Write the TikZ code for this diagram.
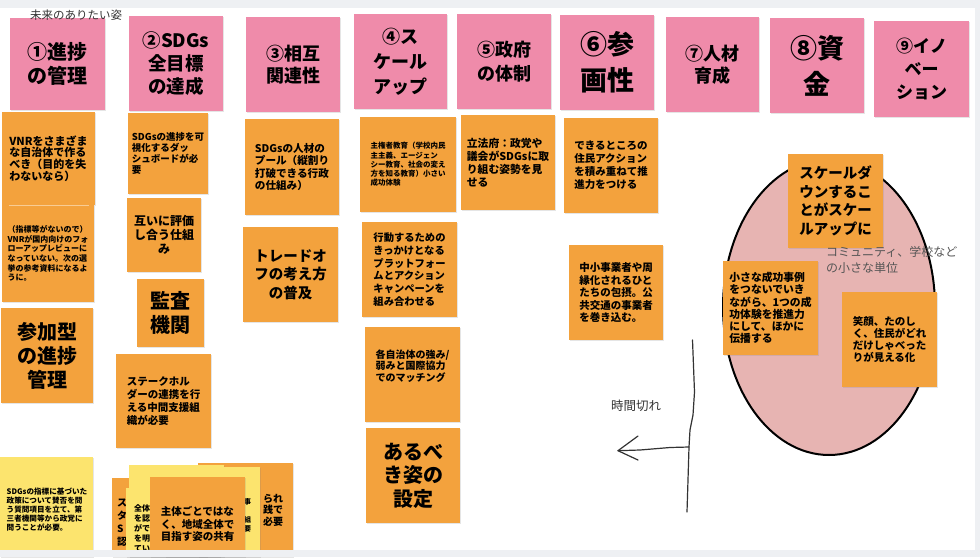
\documentclass[tikz,border=0pt]{standalone}
\usepackage{fontspec}
\usetikzlibrary{shadows}
\newfontfamily\cjk{Noto Sans CJK JP}
\definecolor{pinkc}{HTML}{EF8BAA}
\definecolor{orangec}{HTML}{F3A23D}
\definecolor{yellowc}{HTML}{FCE46E}
\definecolor{ellc}{HTML}{E7B4B2}
\definecolor{bandc}{HTML}{EEF0F3}
\definecolor{inkc}{HTML}{333333}
\definecolor{grayc}{HTML}{555555}
\begin{document}
\begin{tikzpicture}[x=1pt,y=-1pt,
  sticky/.style={inner sep=0pt, outer sep=0pt, align=center,
    drop shadow={shadow xshift=0.6pt, shadow yshift=-1.2pt, opacity=0.2}},
  pk/.style={sticky, fill=pinkc},
  og/.style={sticky, fill=orangec},
  yl/.style={sticky, fill=yellowc},
  fs/.style 2 args={font={\cjk\bfseries\fontsize{#1}{#2}\selectfont}},
  txt/.style={inner sep=0pt, outer sep=0pt, align=left},
  hand/.style={draw=inkc, line width=1.2pt, line cap=round, line join=round}]
\useasboundingbox (0,0) rectangle (980,557);
\fill[white] (0,0) rectangle (980,557);
\fill[bandc] (0,0) rectangle (980,8);

% ellipse
\draw[fill=ellc, line width=2pt] (829,307) ellipse [x radius=106, y radius=148];

% pink headers
\node[pk, minimum width=95pt, minimum height=92pt, fs={20}{24}] (p1) at (57.5,64) {①進捗\\の管理};
\node[pk, minimum width=94pt, minimum height=95pt, fs={18.5}{23}] (p2) at (176,63.5) {②SDGs\\全目標\\の達成};
\node[pk, minimum width=94pt, minimum height=95pt, fs={18}{22}] (p3) at (293,64.5) {③相互\\関連性};
\node[pk, minimum width=93pt, minimum height=95pt, fs={18}{25}] (p4) at (400.5,61.5) {④ス\\ケール\\アップ};
\node[pk, minimum width=94pt, minimum height=95pt, fs={18}{24}] (p5) at (504,61.5) {⑤政府\\の体制};
\node[pk, minimum width=94pt, minimum height=95pt, fs={27}{36}] (p6) at (607,62.5) {⑥参\\画性};
\node[pk, minimum width=93pt, minimum height=95pt, fs={18}{22}] (p7) at (712.5,64.5) {⑦人材\\育成};
\node[pk, minimum width=94pt, minimum height=95pt, fs={27}{36}] (p8) at (817,65.5) {⑧資\\金};
\node[pk, minimum width=95pt, minimum height=96pt, fs={17}{23}] (p9) at (921.5,69) {⑨イノ\\ベー\\ション};

\node[anchor=west, inner sep=0pt, font={\cjk\fontsize{11.5}{13}\selectfont}, text=inkc] (title) at (30,15) {未来のありたい姿};

% column 1
\node[og, minimum width=93pt, minimum height=93pt, align=left, fs={11}{11.7}] (o1) at (48.5,158.5) {VNRをさまざま\\な自治体で作る\\べき（目的を失\\わないなら）};
\node[og, minimum width=92pt, minimum height=97pt, align=left, fs={8}{9.6}] (o2) at (48,253.5) {（指標等がないので）\\VNRが国内向けのフォ\\ローアップレビューに\\なっていない。次の選\\挙の参考資料になるよ\\うに。};
\draw[draw=orangec!55!white, line width=1pt] ([xshift=7pt]o2.north west) -- ([xshift=-5pt]o2.north east);
\node[og, minimum width=92pt, minimum height=95pt, fs={20}{24}] (o3) at (47,355.5) {参加型\\の進捗\\管理};

% column 2
\node[og, minimum width=80pt, minimum height=81pt, align=left, fs={9.5}{10.8}] (o4) at (168,153.5) {SDGsの進捗を可\\視化するダッ\\シュボードが必\\要};
\node[og, minimum width=74pt, minimum height=74pt, fs={12}{14}] (o5) at (164,235) {互いに評価\\し合う仕組\\み};
\node[og, minimum width=67pt, minimum height=68pt, fs={20}{24}] (o6) at (170.5,313) {監査\\機関};
\node[og, minimum width=95pt, minimum height=94pt, align=left, fs={10.5}{12.8}] (o7) at (163.5,401) {ステークホル\\ダーの連携を行\\える中間支援組\\織が必要};

% column 3
\node[og, minimum width=94pt, minimum height=96pt, align=left, fs={10.6}{12.6}] (o8) at (292,167) {SDGsの人材の\\プール（縦割り\\打破できる行政\\の仕組み）};
\node[og, minimum width=95pt, minimum height=95pt, fs={14.5}{18.5}] (o9) at (290.5,274.5) {トレードオ\\フの考え方\\の普及};

% column 4
\node[og, minimum width=96pt, minimum height=95pt, align=left, fs={7.5}{9.2}] (o10) at (408,164.5) {主権者教育（学校内民\\主主義、エージェン\\シー教育、社会の変え\\方を知る教育）小さい\\成功体験};
\node[og, minimum width=95pt, minimum height=95pt, align=left, fs={10.3}{12.8}] (o11) at (409.5,269.5) {行動するための\\きっかけとなる\\プラットフォー\\ムとアクション\\キャンペーンを\\組み合わせる};
\node[og, minimum width=95pt, minimum height=95pt] (o12) at (412.5,374.5) {};
\node[txt, fs={10}{11.7}] (t12) at (412.5,366) {各自治体の強み/\\弱みと国際協力\\でのマッチング};
\node[og, minimum width=94pt, minimum height=95pt, fs={20}{23.5}] (o13) at (413,475.5) {あるべ\\き姿の\\設定};

% column 5, 6
\node[og, minimum width=94pt, minimum height=95pt, align=left, fs={10.8}{13}] (o14) at (508,162.5) {立法府：政党や\\議会がSDGsに取\\り組む姿勢を見\\せる};
\node[og, minimum width=94pt, minimum height=95pt, align=left, fs={10.5}{13}] (o15) at (611,165.5) {できるところの\\住民アクション\\を積み重ねて推\\進力をつける};
\node[og, minimum width=94pt, minimum height=95pt, align=left, fs={10.5}{12.5}] (o16) at (616,292.5) {中小事業者や周\\縁化されるひと\\たちの包摂。公\\共交通の事業者\\を巻き込む。};

% ellipse stickies
\node[og, minimum width=95pt, minimum height=94pt, align=left, fs={14.5}{18.5}] (o17) at (835.5,201) {スケールダ\\ウンするこ\\とがスケー\\ルアップに};
\node[og, minimum width=95pt, minimum height=94pt, align=left, fs={10.8}{12.2}] (o18) at (770.5,308) {小さな成功事例\\をつないでいき\\ながら、1つの成\\功体験を推進力\\にして、ほかに\\伝播する};
\node[og, minimum width=95pt, minimum height=95pt, align=left, fs={10.5}{12}] (o19) at (889.5,339.5) {笑顔、たのし\\く、住民がどれ\\だけしゃべった\\りが見える化};
\node[txt, anchor=west, text=grayc, font={\cjk\fontsize{12}{16}\selectfont}] (comm) at (826,260) {コミュニティ、学校など\\の小さな単位};

% hand drawn line and arrow
\coordinate (v1) at (692.5,340);
\coordinate (v2) at (694.5,392);
\coordinate (v3) at (693,415);
\coordinate (v4) at (690,430);
\coordinate (vj) at (689,447);
\coordinate (v5) at (688,480);
\coordinate (v6) at (687,512);
\coordinate (a1) at (670,447.5);
\coordinate (a2) at (640,450);
\coordinate (tip) at (618,450.7);
\coordinate (armA) at (638,436);
\coordinate (armB) at (638,460);
\draw[hand] (v1) -- (v2) -- (v3) -- (v4) -- (vj) -- (v5) -- (v6);
\draw[hand] (vj) -- (a1) -- (a2) -- (tip);
\draw[hand] (armA) -- (tip) -- (armB);
\node[inner sep=0pt, text=inkc, font={\cjk\fontsize{12.5}{14}\selectfont}] (time) at (636,406) {時間切れ};

% bottom-left yellow
\node[yl, minimum width=93pt, minimum height=100pt] (y1) at (46.5,507) {};
\node[txt, fs={7.6}{9}] (ty1) at (47,510) {SDGsの指標に基づいた\\政策について賛否を問\\う質問項目を立て、第\\三者機関等から政党に\\問うことが必要。};

% stacked cluster
\node[og, minimum width=95pt, minimum height=94pt] (cR) at (245.5,510) {};
\node[txt, anchor=north west, fs={10}{11.5}] (tcR) at (263,494) {られ\\践で\\必要};
\node[og, minimum width=95pt, minimum height=79pt] (cL) at (159.5,517.5) {};
\node[txt, anchor=north west, fs={10}{13}] (tcL) at (117,499) {ス\\タ\\S\\認};
\node[yl, minimum width=94pt, minimum height=69pt] (yA) at (173,522.5) {};
\node[yl, minimum width=95pt, minimum height=92pt] (yB) at (176.5,511) {};
\node[txt, anchor=north west, fs={8}{10}] (tyB) at (134,505) {全体\\を認\\がで\\を明\\てい};
\node[yl, minimum width=95pt, minimum height=90pt] (yR) at (212.5,512) {};
\node[txt, anchor=north west, fs={7}{9}] (tyR) at (244,499) {事\\\phantom{事}\\組\\要};
\node[og, minimum width=95pt, minimum height=80pt] (cF) at (197.5,517) {};
\node[txt, fs={10.5}{12.5}] (tcF) at (197.5,524) {主体ごとではな\\く、地域全体で\\目指す姿の共有};

% frame bands
\fill[bandc] (0,550) rectangle (980,557);
\fill[bandc] (975,0) rectangle (980,557);
\end{tikzpicture}
\end{document}
